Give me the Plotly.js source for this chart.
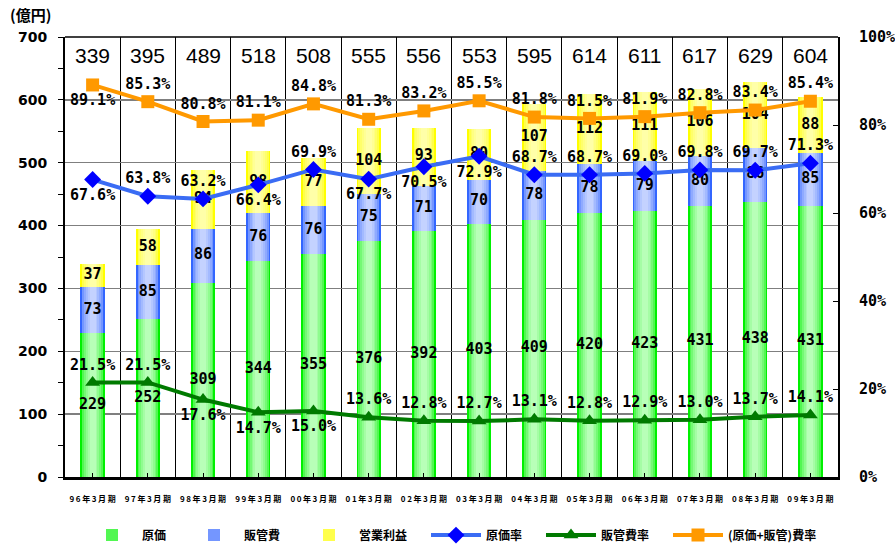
<!DOCTYPE html>
<html><head><meta charset="utf-8">
<script src="https://cdn.plot.ly/plotly-3.0.1.min.js"></script>
<style>html,body{margin:0;padding:0;background:#fff}#chart{width:895px;height:546px}</style>
</head><body><div id="chart"></div>
<script>
const categories = ['96年3月期','97年3月期','98年3月期','99年3月期','00年3月期','01年3月期','02年3月期','03年3月期','04年3月期','05年3月期','06年3月期','07年3月期','08年3月期','09年3月期'];
const genka  = [229,252,309,344,355,376,392,403,409,420,423,431,438,431];
const hankan = [73,85,86,76,76,75,71,70,78,78,79,80,86,85];
const eigyo  = [37,58,94,98,77,104,93,80,107,112,111,106,104,88];
const totals = [339,395,489,518,508,555,556,553,595,614,611,617,629,604];
const genkaRate  = [67.6,63.8,63.2,66.4,69.9,67.7,70.5,72.9,68.7,68.7,69.0,69.8,69.7,71.3];
const hankanRate = [21.5,21.5,17.6,14.7,15.0,13.6,12.8,12.7,13.1,12.8,12.9,13.0,13.7,14.1];
const totalRate  = [89.1,85.3,80.8,81.1,84.8,81.3,83.2,85.5,81.8,81.5,81.9,82.8,83.4,85.4];
const rightTicks = [0,20,40,60,80,100];

const genkaRatePos  = ['bottom center','top center','top center','bottom center','top center','bottom center','bottom center','bottom center','top center','top center','top center','top center','top center','top center'];
const hankanRatePos = ['top center','top center','bottom center','bottom center','bottom center','top center','top center','top center','top center','top center','top center','top center','top center','top center'];
const totalRatePos  = ['bottom center','top center','top center','top center','top center','top center','top center','top center','top center','top center','top center','top center','top center','top center'];

const idx = categories.map((_, i) => i);
const numFont = {family: 'DejaVu Sans Mono', size: 15, color: '#000', weight: 'bold'};
const cjkFont = 'Noto Sans CJK JP';

function hex2rgb(h){return [parseInt(h.substr(1,2),16),parseInt(h.substr(3,2),16),parseInt(h.substr(5,2),16)];}
function mix(a,b,t){const A=hex2rgb(a),B=hex2rgb(b);return 'rgb('+A.map((v,i)=>Math.round(v+(B[i]-v)*t)).join(',')+')';}

const W = 0.44, N = 6;
function gradientBars(name, vals, bases, edge, center, legendId){
  const out = [];
  for (let k = 0; k < N; k++){
    const t = Math.sqrt(k/(N-1));
    out.push({
      type: 'bar', x: idx, y: vals, base: bases, name: name,
      width: W*(1 - k/N*0.9),
      marker: {color: mix(edge, center, t), line: {width: 0}},
      showlegend: k === 1, legend: legendId, legendgroup: name, hoverinfo: 'skip'
    });
  }
  return out;
}
const zero = idx.map(() => 0);
const base2 = genka.slice();
const base3 = genka.map((v, i) => v + hankan[i]);

const traces = [].concat(
  gradientBars('原価', genka, zero, '#00f000', '#b8ffb8', 'legend'),
  gradientBars('販管費', hankan, base2, '#3366ff', '#c4d2ff', 'legend2'),
  gradientBars('営業利益', eigyo, base3, '#ffff00', '#ffffa8', 'legend3')
);

function segLabels(vals, bases){
  return {type: 'scatter', mode: 'text', x: idx, y: vals.map((v, i) => bases[i] + v/2),
    text: vals.map(String), textfont: numFont, showlegend: false, hoverinfo: 'skip', cliponaxis: false};
}
traces.push(segLabels(genka, zero), segLabels(hankan, base2), segLabels(eigyo, base3));

function rateLine(name, vals, color, mcolor, symbol, pos, legendId){
  return {type: 'scatter', mode: 'lines+markers+text', x: idx, y: vals, yaxis: 'y2', name: name,
    line: {color: color, width: 4}, marker: {color: mcolor, symbol: symbol, size: 13},
    text: vals.map(v => v.toFixed(1) + '%'), textposition: pos, textfont: numFont,
    cliponaxis: false, hoverinfo: 'skip', legend: legendId};
}
traces.push(
  rateLine('原価率', genkaRate, '#3a6cf4', '#0000ff', 'diamond', genkaRatePos, 'legend4'),
  rateLine('販管費率', hankanRate, '#007a00', '#007a00', 'triangle-up', hankanRatePos, 'legend5'),
  rateLine('(原価+販管)費率', totalRate, '#ff9900', '#ff9900', 'square', totalRatePos, 'legend6')
);

const annotations = totals.map((v, i) => ({
  x: i, y: 670, xref: 'x', yref: 'y', text: String(v), showarrow: false,
  font: {family: 'Liberation Sans', size: 21, color: '#000'}, yanchor: 'middle'
}));
annotations.push({xref: 'paper', yref: 'paper', x: -0.074, y: 1.05, xanchor: 'left', yanchor: 'middle',
  text: '(億円)', showarrow: false, font: {family: cjkFont, size: 15, color: '#000', weight: 'bold'}});

function leg(px){
  return {orientation: 'h', xref: 'container', yref: 'container', x: px/895, y: 0.02,
    xanchor: 'left', yanchor: 'middle', bgcolor: 'rgba(0,0,0,0)', borderwidth: 0,
    font: {family: cjkFont, size: 12, color: '#000', weight: 'bold'}, itemwidth: 50};
}

const layout = {
  width: 895, height: 546,
  margin: {l: 65, r: 57, t: 37, b: 69, autoexpand: false},
  paper_bgcolor: '#fff', plot_bgcolor: '#fff',
  barmode: 'overlay', bargap: 0,
  showlegend: true,
  legend: leg(82), legend2: leg(184), legend3: leg(299),
  legend4: leg(426), legend5: leg(541), legend6: leg(668),
  xaxis: {
    range: [-0.5, 13.5], tickmode: 'array', tickvals: idx,
    ticktext: categories.map(c => c.split('').join('\u2009')),
    tickfont: {family: cjkFont, size: 8, color: '#000', weight: 'bold'},
    ticks: 'inside', ticklen: 4, tickcolor: '#000', ticklabelstandoff: 12,
    showgrid: false, zeroline: false, showline: true, linecolor: '#000', linewidth: 3,
    minor: {tickmode: 'linear', tick0: 0.5, dtick: 1, showgrid: true, gridcolor: '#000', gridwidth: 1, ticks: ''},
    fixedrange: true
  },
  yaxis: {
    range: [0, 700], dtick: 100, tick0: 0,
    tickfont: {family: 'DejaVu Sans', size: 14, color: '#000', weight: 'bold'},
    ticks: 'outside', ticklen: 5, tickcolor: '#000', ticklabelstandoff: 8,
    showgrid: true, gridcolor: '#7f7f7f', gridwidth: 1.5, zeroline: false,
    showline: true, linecolor: '#000', linewidth: 2,
    minor: {dtick: 50, ticks: 'outside', ticklen: 5, tickcolor: '#000', showgrid: false},
    fixedrange: true
  },
  yaxis2: {
    overlaying: 'y', side: 'right', range: [0, 100], tickmode: 'array', tickvals: rightTicks,
    ticktext: rightTicks.map(v => v + '%'),
    tickfont: {family: 'DejaVu Sans Mono', size: 15, color: '#000', weight: 'bold'},
    ticks: 'inside', ticklen: 5, tickcolor: '#000', ticklabelstandoff: 16,
    showgrid: false, zeroline: false, showline: true, linecolor: '#000', linewidth: 2,
    fixedrange: true
  },
  shapes: [{type: 'line', xref: 'paper', yref: 'paper', x0: 0, x1: 1, y0: 1, y1: 1, line: {color: '#000', width: 1.5}}],
  annotations: annotations
};

Plotly.newPlot('chart', traces, layout, {displayModeBar: false, staticPlot: true});
</script></body></html>
